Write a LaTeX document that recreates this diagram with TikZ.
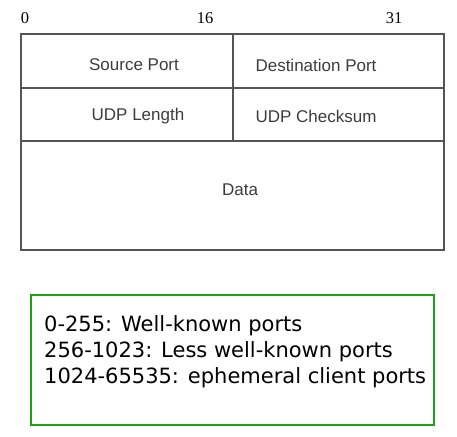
\documentclass[tikz,border=0pt]{standalone}
\usepackage{fontspec}
\setmainfont{Liberation Sans}
\newfontfamily\bitfont{Liberation Serif}
\newfontfamily\notefont{DejaVu Sans}
\definecolor{tline}{RGB}{85,85,85}
\definecolor{ttext}{RGB}{60,60,60}
\definecolor{gbox}{RGB}{30,160,20}
\begin{document}
\begin{tikzpicture}[x=1pt,y=-1pt,
  field/.style={text=ttext,font=\fontsize{17}{19}\selectfont,inner sep=0pt},
  bit/.style={font=\bitfont\fontsize{16.5}{18}\selectfont,inner sep=0pt,anchor=base},
  tab/.style={draw=tline,line width=1.1pt}]
\useasboundingbox (0,0) rectangle (457,436);
% table
\draw[tab] (21,34) rectangle (444,250);
\draw[tab] (21,88) -- (444,88);
\draw[tab] (21,141) -- (444,141);
\draw[tab] (233,34) -- (233,141);
% bit numbers
\node[bit] (b0) at (25,24) {0};
\node[bit] (b16) at (205,24) {16};
\node[bit] (b31) at (394,24) {31};
% fields
\node[field] (sp) at (134,65) {Source Port};
\node[field] (dp) at (316,65) {Destination Port};
\node[field] (ul) at (138,116) {UDP Length};
\node[field] (uc) at (316,116) {UDP Checksum};
\node[field] (data) at (240,190) {Data};
% note box
\draw[draw=gbox,line width=2.6pt] (31,295) rectangle (434,425);
\node[anchor=north west,inner sep=0pt,align=left,font=\notefont\fontsize{21}{26}\selectfont] (note) at (44,315)
{0-255: Well-known ports\\256-1023: Less well-known ports\\1024-65535: ephemeral client ports};
\end{tikzpicture}
\end{document}
